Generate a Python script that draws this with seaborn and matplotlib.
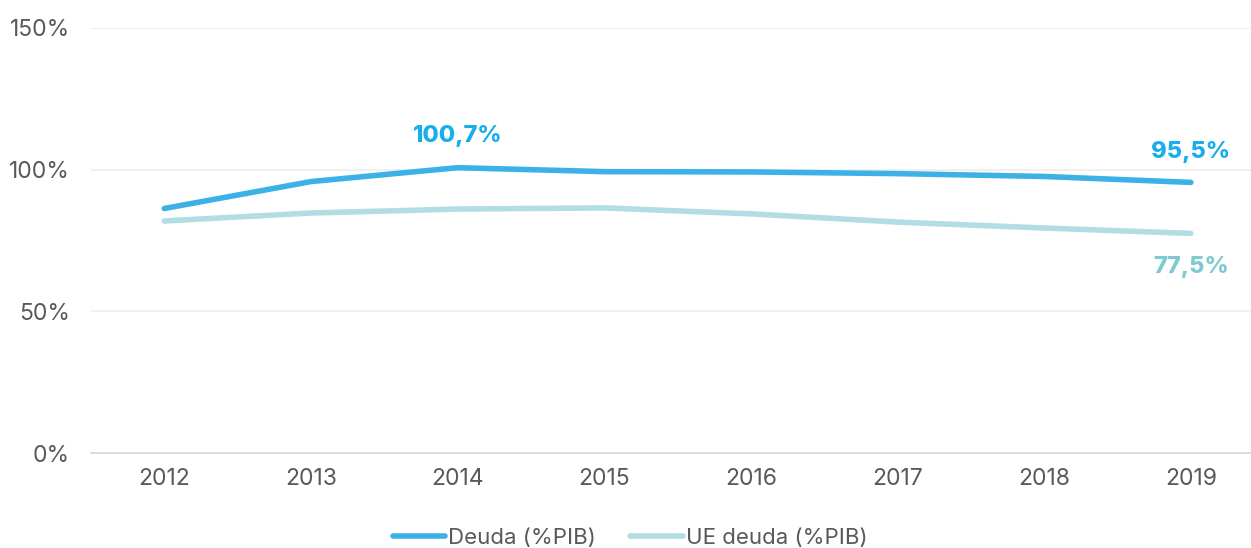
import numpy as np
import pandas as pd
import seaborn as sns
import matplotlib.pyplot as plt

years = ['2012', '2013', '2014', '2015', '2016', '2017', '2018', '2019']
deuda = [86.3, 95.8, 100.7, 99.3, 99.2, 98.6, 97.6, 95.5]
ue_deuda = [81.9, 84.7, 86.1, 86.5, 84.4, 81.5, 79.4, 77.5]

series_names = ['Deuda (%PIB)', 'UE deuda (%PIB)']
colors = {'Deuda (%PIB)': '#3db1e6', 'UE deuda (%PIB)': '#b1dde3'}

sns.set_theme(style='white')
plt.rcParams['font.family'] = ['Inter', 'DejaVu Sans']

df = pd.DataFrame({
    'year': years * 2,
    'value': deuda + ue_deuda,
    'serie': [series_names[0]] * len(years) + [series_names[1]] * len(years),
})

fig = plt.figure(figsize=(12.51, 5.48), dpi=100)
ax = fig.add_axes([91 / 1251, 95 / 548, 1 - 91 / 1251, (520 - 95) / 548])

sns.lineplot(data=df, x='year', y='value', hue='serie', palette=colors,
             linewidth=4, ax=ax, sort=False, solid_capstyle='round')

ax.set_xlim(-0.5, 7.41)
ax.set_ylim(0, 150)
ax.set_yticks([0, 50, 100, 150])
ax.set_yticklabels([f'{v}%' for v in [0, 50, 100, 150]])
ax.set_xlabel('')
ax.set_ylabel('')
ax.grid(axis='y', color='#eeeeee', linewidth=1.2)
ax.set_axisbelow(True)
for s in ['top', 'right', 'left']:
    ax.spines[s].set_visible(False)
ax.spines['bottom'].set_color('#d6d6d6')
ax.spines['bottom'].set_linewidth(1.2)
ax.tick_params(axis='both', length=0, labelsize=16.5, colors='#595959')
ax.tick_params(axis='x', pad=11)
ax.tick_params(axis='y', pad=15)

# value labels
lbl = dict(ha='center', va='center', fontsize=17, fontweight='heavy',
           textcoords='offset points')
ax.annotate('100,7%', (2, deuda[2]), xytext=(0, 23), color='#19aeea', **lbl)
ax.annotate('95,5%', (7, deuda[7]), xytext=(0, 22), color='#19aeea', **lbl)
ax.annotate('77,5%', (7, ue_deuda[7]), xytext=(0, -24), color='#7ecad3', **lbl)

handles, labels = ax.get_legend_handles_labels()
ax.legend(handles, labels, loc='center', bbox_to_anchor=(0.4647, -0.2),
          ncol=2, frameon=False, fontsize=16, labelcolor='#595959',
          handlelength=2.35, handletextpad=0.15, columnspacing=1.55)

fig.savefig('out.png', dpi=100)
